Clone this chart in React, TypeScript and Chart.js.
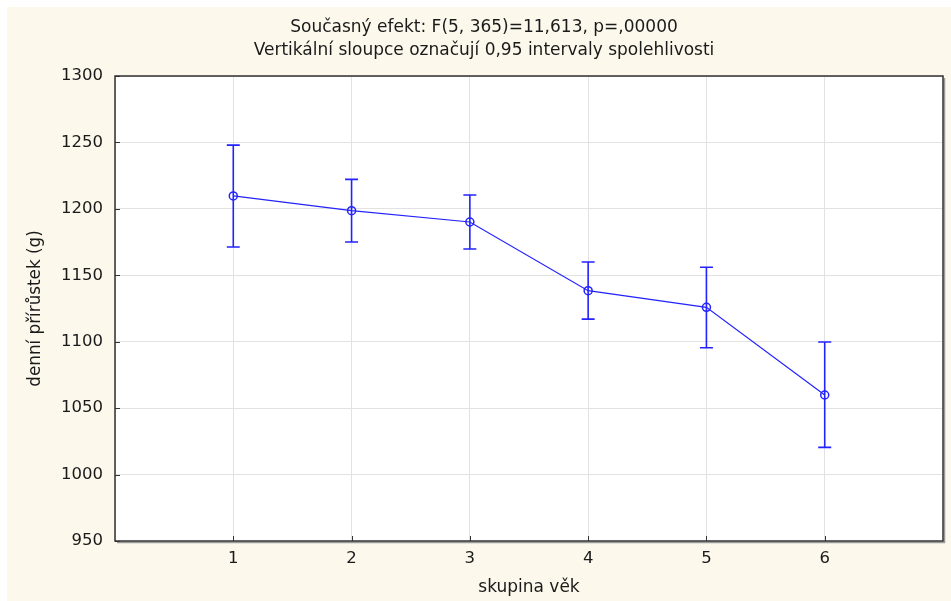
import React, { useEffect, useRef } from "react";
import { Chart, registerables } from "chart.js";

Chart.register(...registerables);

const groups = [1, 2, 3, 4, 5, 6];
const means = [1209.7, 1198.6, 1190.1, 1138.4, 1125.9, 1059.9];
const lowerCI = [1171.3, 1175.0, 1169.8, 1117.0, 1095.5, 1020.5];
const upperCI = [1248.0, 1222.2, 1210.4, 1160.0, 1156.0, 1099.8];
const xLabelsShown = [1, 2, 3, 4, 5, 6];
const yMin = 950;
const yMax = 1300;
const yStep = 50;
const xMin = 0;
const xMax = 7;
const titleLines = [
  "Současný efekt: F(5, 365)=11,613, p=,00000",
  "Vertikální sloupce označují 0,95 intervaly spolehlivosti",
];
const xTitle = "skupina věk";
const yTitle = "denní přírůstek (g)";

const FONT = "'DejaVu Sans', 'Liberation Sans', Arial, sans-serif";
const BLUE = "#2323ff";
const TEXT = "#1a1a1a";

const bgPlugin = {
  id: "bgPlugin",
  beforeDraw(chart: any) {
    const { ctx, width, height, chartArea } = chart;
    ctx.save();
    ctx.fillStyle = "#ffffff";
    ctx.fillRect(0, 0, width, height);
    ctx.fillStyle = "#fdf8ec";
    ctx.fillRect(7, 7, width - 7, height - 7);
    ctx.fillStyle = "#ffffff";
    ctx.fillRect(chartArea.left, chartArea.top, chartArea.right - chartArea.left, chartArea.bottom - chartArea.top);
    ctx.restore();
  },
};

const errorBarPlugin = {
  id: "errorBarPlugin",
  afterDatasetsDraw(chart: any) {
    const { ctx } = chart;
    const xs = chart.scales.x;
    const ys = chart.scales.y;
    ctx.save();
    ctx.strokeStyle = BLUE;
    ctx.lineWidth = 1.6;
    groups.forEach((g, i) => {
      const x = xs.getPixelForValue(g);
      const yl = ys.getPixelForValue(lowerCI[i]);
      const yh = ys.getPixelForValue(upperCI[i]);
      ctx.beginPath();
      ctx.moveTo(x, yl);
      ctx.lineTo(x, yh);
      ctx.moveTo(x - 6.5, yl);
      ctx.lineTo(x + 6.5, yl);
      ctx.moveTo(x - 6.5, yh);
      ctx.lineTo(x + 6.5, yh);
      ctx.stroke();
    });
    ctx.restore();
  },
};

const framePlugin = {
  id: "framePlugin",
  afterDraw(chart: any) {
    const { ctx, chartArea } = chart;
    const { left, right, top, bottom } = chartArea;
    const xs = chart.scales.x;
    const ys = chart.scales.y;
    ctx.save();
    ctx.strokeStyle = "#333333";
    ctx.lineWidth = 1;
    ctx.beginPath();
    for (let v = yMin; v <= yMax; v += yStep) {
      const y = Math.round(ys.getPixelForValue(v)) + 0.5;
      ctx.moveTo(left, y);
      ctx.lineTo(left + 5, y);
    }
    xLabelsShown.forEach((v) => {
      const x = Math.round(xs.getPixelForValue(v)) + 0.5;
      ctx.moveTo(x, bottom);
      ctx.lineTo(x, bottom - 5);
    });
    ctx.stroke();
    ctx.strokeStyle = "#9a9a9a";
    ctx.lineWidth = 1.5;
    ctx.beginPath();
    ctx.moveTo(right + 1.5, top + 2);
    ctx.lineTo(right + 1.5, bottom + 1.5);
    ctx.lineTo(left + 2, bottom + 1.5);
    ctx.stroke();
    ctx.strokeStyle = "#303030";
    ctx.lineWidth = 1.5;
    ctx.strokeRect(left, top, right - left, bottom - top);
    ctx.restore();
  },
};

export default function App() {
  const ref = useRef<HTMLCanvasElement | null>(null);
  useEffect(() => {
    if (!ref.current) return;
    const chart = new Chart(ref.current, {
      type: "line",
      data: {
        datasets: [
          {
            data: groups.map((g, i) => ({ x: g, y: means[i] })),
            borderColor: BLUE,
            borderWidth: 1.2,
            pointStyle: "circle",
            pointRadius: 4,
            pointBorderWidth: 1.5,
            pointBorderColor: BLUE,
            pointBackgroundColor: "rgba(255,255,255,0)",
            fill: false,
            tension: 0,
          },
        ],
      },
      options: {
        animation: false,
        responsive: false,
        devicePixelRatio: 1,
        layout: { padding: { left: 24, right: 7, top: 0, bottom: 0 } },
        plugins: {
          legend: { display: false },
          tooltip: { enabled: false },
          title: {
            display: true,
            text: titleLines,
            color: TEXT,
            font: { family: FONT, size: 17, weight: "normal", lineHeight: "23px" },
            padding: { top: 16, bottom: 14 },
          },
        },
        scales: {
          x: {
            type: "linear",
            min: xMin,
            max: xMax,
            ticks: {
              stepSize: 1,
              autoSkip: false,
              maxRotation: 0,
              padding: 8,
              color: TEXT,
              font: { family: FONT, size: 16.5 },
              callback: (v: any) => (xLabelsShown.includes(Number(v)) ? String(v) : ""),
            },
            grid: { color: "#e2e2e2", drawTicks: false, lineWidth: 1 },
            border: { display: false },
            title: {
              display: true,
              text: xTitle,
              color: TEXT,
              font: { family: FONT, size: 17 },
              padding: { top: 0, bottom: 3 },
            },
            afterFit(s: any) {
              s.height = 60;
            },
          },
          y: {
            min: yMin,
            max: yMax,
            ticks: {
              stepSize: yStep,
              padding: 12,
              color: TEXT,
              font: { family: FONT, size: 16.5 },
              callback: (v: any) => String(v),
            },
            grid: { color: "#e2e2e2", drawTicks: false, lineWidth: 1 },
            border: { display: false },
            title: {
              display: true,
              text: yTitle,
              color: TEXT,
              font: { family: FONT, size: 16.8 },
              padding: { top: 2, bottom: 0 },
            },
            afterFit(s: any) {
              s.width = 91;
            },
          },
        },
      },
      plugins: [bgPlugin, errorBarPlugin, framePlugin],
    } as any);
    return () => chart.destroy();
  }, []);
  return (
    <div style={{ position: "fixed", left: 0, top: 0, width: 951, height: 601 }}>
      <canvas ref={ref} width={951} height={601} style={{ display: "block" }} />
    </div>
  );
}
